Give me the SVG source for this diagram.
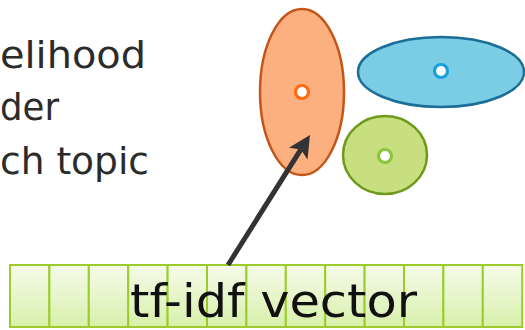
<svg xmlns="http://www.w3.org/2000/svg" width="525" height="330" viewBox="0 0 525 330">
<style>
.lbl{font-family:"DejaVu Sans","Liberation Sans",sans-serif;fill:#2b2b2b}
.cell{fill:url(#cg);stroke:#9ccc2c;stroke-width:2}
.dot{fill:#fff;stroke-width:3.2}
</style>
<defs>
<linearGradient id="cg" x1="0" y1="0" x2="0" y2="1">
<stop offset="0" stop-color="#f5fbea"/>
<stop offset="1" stop-color="#d8f0ab"/>
</linearGradient>
<marker id="ah" markerUnits="userSpaceOnUse" markerWidth="28" markerHeight="28" viewBox="-2 -14 28 28" refX="5" refY="0" orient="auto">
<path d="M0,-11 L22,0 L0,11 L5,0 z" fill="#333"/>
</marker>
</defs>
<rect width="525" height="330" fill="#fff"/>
<g id="caption">
<text class="lbl" x="0" y="68" font-size="38" textLength="146" lengthAdjust="spacingAndGlyphs">elihood</text>
<text class="lbl" x="0" y="120" font-size="38" textLength="59" lengthAdjust="spacingAndGlyphs">der</text>
<text class="lbl" x="0" y="174" font-size="38" textLength="149" lengthAdjust="spacingAndGlyphs">ch topic</text>
</g>
<g id="topic-orange">
<ellipse cx="302" cy="92" rx="42" ry="83" fill="#fdb07f" stroke="#c4561a" stroke-width="2.5"/>
<circle class="dot" cx="302" cy="92" r="6.5" stroke="#ff6a10"/>
</g>
<g id="topic-blue">
<ellipse cx="441" cy="72" rx="83" ry="35" fill="#7bcce5" stroke="#1b6e96" stroke-width="2.5"/>
<circle class="dot" cx="441" cy="71" r="6.5" stroke="#1aa0d8"/>
</g>
<g id="topic-green">
<ellipse cx="385" cy="155" rx="42" ry="39" fill="#c8df80" stroke="#6e9a1a" stroke-width="2.5"/>
<circle class="dot" cx="385" cy="156" r="6.5" stroke="#8cc63f"/>
</g>
<g id="vector">
<rect class="cell" x="10" y="265" width="39.4" height="62"/>
<rect class="cell" x="49.4" y="265" width="39.4" height="62"/>
<rect class="cell" x="88.8" y="265" width="39.4" height="62"/>
<rect class="cell" x="128.2" y="265" width="39.4" height="62"/>
<rect class="cell" x="167.6" y="265" width="39.4" height="62"/>
<rect class="cell" x="207" y="265" width="39.4" height="62"/>
<rect class="cell" x="246.4" y="265" width="39.4" height="62"/>
<rect class="cell" x="285.8" y="265" width="39.4" height="62"/>
<rect class="cell" x="325.2" y="265" width="39.4" height="62"/>
<rect class="cell" x="364.6" y="265" width="39.4" height="62"/>
<rect class="cell" x="404" y="265" width="39.4" height="62"/>
<rect class="cell" x="443.4" y="265" width="39.4" height="62"/>
<rect class="cell" x="482.8" y="265" width="39.4" height="62"/>
<text class="lbl" x="130" y="317" font-size="47" textLength="287" lengthAdjust="spacingAndGlyphs" style="fill:#111">tf-idf vector</text>
</g>
<g id="connectors">
<line x1="228" y1="265" x2="300.9" y2="149.4" stroke="#333" stroke-width="5" marker-end="url(#ah)"/>
</g>
</svg>
